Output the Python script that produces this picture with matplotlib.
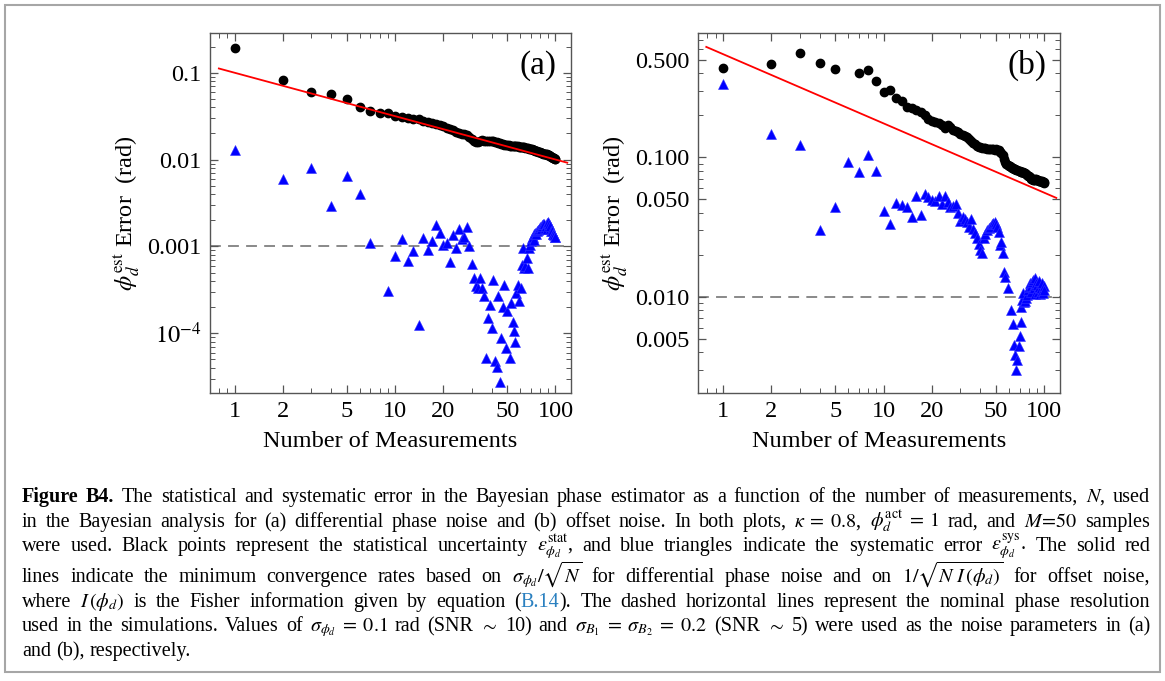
import numpy as np
import matplotlib
matplotlib.use('Agg')
import matplotlib.pyplot as plt
from matplotlib.ticker import FixedLocator, FixedFormatter, LogLocator, NullFormatter
from matplotlib.patches import Rectangle

plt.rcParams['font.family'] = ['Liberation Serif', 'DejaVu Serif']
plt.rcParams['mathtext.fontset'] = 'stix'

# ---- data ----
N_all = np.arange(1, 101)

# (a) differential phase noise
stat_a = [0.194, 0.082, 0.060, 0.057, 0.050, 0.040, 0.036, 0.034, 0.034, 0.032,
          0.031, 0.030, 0.0295, 0.029, 0.028, 0.0272, 0.0265, 0.026, 0.0252, 0.0242,
          0.0232, 0.0226, 0.0222, 0.021, 0.0202, 0.0198, 0.0195, 0.019, 0.0182, 0.0172,
          0.0165, 0.016, 0.0158, 0.0165, 0.0166, 0.0165, 0.0164, 0.0163, 0.0164, 0.0163,
          0.0162, 0.016, 0.0158, 0.0156, 0.0154, 0.0152, 0.015, 0.0148, 0.0147, 0.0146,
          0.0146, 0.0145, 0.0145, 0.0144, 0.0144, 0.0143, 0.0143, 0.0142, 0.0141, 0.014,
          0.014, 0.0139, 0.0139, 0.0138, 0.0137, 0.0136, 0.0135, 0.0134, 0.0133, 0.0132,
          0.0131, 0.013, 0.0129, 0.0128, 0.0127, 0.0125, 0.0124, 0.0123, 0.0122, 0.0121,
          0.012, 0.0119, 0.0118, 0.0117, 0.0116, 0.0116, 0.0115, 0.0115, 0.0114, 0.0113,
          0.0112, 0.0111, 0.011, 0.0108, 0.0106, 0.0105, 0.0104, 0.0103, 0.0102, 0.0101]

sys_a_N = [1, 2, 3, 4, 5, 6, 7, 9, 10, 11, 12, 13, 14, 15, 16, 17, 18, 19, 20,
           21, 22, 23, 24, 25, 26, 27, 28, 29, 30, 31, 32, 33, 34, 35, 36, 37, 38, 39, 40,
           41, 42, 43, 44, 45, 46, 47, 48, 49, 50, 52, 53, 54, 55, 56, 57, 58, 59, 61,
           62, 63, 64, 65, 66, 67, 68, 69, 70, 71, 72, 73, 74, 75, 76, 77, 78, 79, 80,
           81, 82, 83, 84, 85, 86, 87, 88, 89, 90, 91, 92, 93, 94, 95, 96, 97, 98, 99, 100]
sys_a = [0.013, 0.0060, 0.0080, 0.00294, 0.0064, 0.0040, 0.0011, 0.000303, 0.00078, 0.00123,
         0.000684, 0.000875, 0.000125, 0.00125, 0.000916, 0.00116, 0.00175, 0.00143, 0.00103,
         0.0011, 0.00067, 0.00136, 0.00096, 0.00158, 0.00122, 0.00128, 0.00168, 0.00102, 0.00063,
         0.00043, 0.00035, 0.00033, 0.00043, 0.00033, 0.000265, 5.2e-5, 0.000149, 0.000213, 0.000115,
         0.000413, 4.85e-5, 4.06e-5, 0.000272, 2.77e-5, 8.8e-5, 0.000203, 0.000361, 6.7e-5, 0.000178,
         5.2e-5, 0.000222, 0.000134, 0.000107, 8.0e-5, 0.00029, 0.000361, 0.000237, 0.000336,
         0.000615, 0.00096, 0.00056, 0.00059, 0.000735, 0.00056, 0.00096, 0.00105, 0.00114,
         0.00125, 0.0013, 0.0012, 0.0014, 0.00143, 0.0014, 0.0015, 0.00156, 0.0016, 0.00166,
         0.0016, 0.00175, 0.0017, 0.00181, 0.0018, 0.00165, 0.0017, 0.00186, 0.0016, 0.0019,
         0.0018, 0.0016, 0.0017, 0.0015, 0.00149, 0.0014, 0.0014, 0.00134, 0.0013, 0.0013]

line_a_N = [0.795, 118.5]
line_a = [0.112, 0.0092]
nominal_a = 0.001

# (b) offset noise
stat_b_N = [1, 2, 3, 4, 5, 7, 8, 9] + list(range(10, 101))
stat_b = [0.44, 0.468, 0.558, 0.473, 0.43, 0.401, 0.424, 0.353,
          0.296, 0.304, 0.265, 0.255, 0.23, 0.225, 0.219, 0.21, 0.2, 0.19,
          0.183, 0.178, 0.175, 0.17, 0.162, 0.17, 0.165, 0.158, 0.155, 0.151,
          0.148, 0.145, 0.142, 0.139, 0.136, 0.132, 0.127, 0.124, 0.121, 0.119,
          0.118, 0.117, 0.116, 0.116, 0.115, 0.115, 0.115, 0.114, 0.114, 0.113,
          0.114, 0.113, 0.112, 0.110, 0.108, 0.104, 0.097, 0.092, 0.089, 0.088,
          0.087, 0.086, 0.085, 0.084, 0.084, 0.083, 0.082, 0.081, 0.081, 0.080,
          0.080, 0.079, 0.079, 0.078, 0.078, 0.077, 0.077, 0.076, 0.075, 0.074,
          0.073, 0.072, 0.071, 0.070, 0.070, 0.069, 0.069, 0.069, 0.070, 0.070,
          0.069, 0.069, 0.068, 0.068, 0.068, 0.068, 0.068, 0.067, 0.067, 0.067,
          0.066]

sys_b_N = list(range(1, 58)) + [59, 62, 64, 65, 66, 67, 68, 69, 70, 71, 72, 73, 74, 75,
                                 76, 77, 78, 79, 80, 81, 82, 83, 84, 85, 86, 87, 88, 89,
                                 90, 91, 92, 93, 94, 95, 96, 97, 98, 99, 100]
sys_b = [0.336, 0.146, 0.123, 0.030, 0.0438, 0.093, 0.0788, 0.104, 0.080, 0.041,
         0.0335, 0.0468, 0.0455, 0.0438, 0.0375, 0.0527, 0.0386, 0.0545, 0.0516, 0.0494,
         0.0489, 0.0527, 0.0462, 0.0527, 0.048, 0.0438, 0.045, 0.0462, 0.040, 0.035,
         0.0375, 0.036, 0.0345, 0.0318, 0.0359, 0.0304, 0.0285, 0.0262, 0.024, 0.0218,
         0.0205, 0.0262, 0.028, 0.030, 0.031, 0.0318, 0.033, 0.0336, 0.0345, 0.0335,
         0.0318, 0.0292, 0.0234, 0.0248, 0.0207, 0.0151, 0.0138,
         0.0115, 0.0080, 0.0064, 0.0045, 0.0038, 0.0030, 0.0035, 0.0044, 0.0052, 0.0066,
         0.0085, 0.0095, 0.0106, 0.0092, 0.0094, 0.0098, 0.0103, 0.0111, 0.0118, 0.0125,
         0.012, 0.0108, 0.0128, 0.0131, 0.0115, 0.0105, 0.0136, 0.0125, 0.0122, 0.0108,
         0.0118, 0.013, 0.0105, 0.0115, 0.011, 0.0125, 0.0106, 0.012, 0.0112]

line_b_N = [0.788, 118.5]
line_b = [0.62, 0.0512]
nominal_b = 0.01

xticks = [1, 2, 5, 10, 20, 50, 100]
xlabels = ['1', '2', '5', '10', '20', '50', '100']
yticks_a = [1e-4, 1e-3, 1e-2, 1e-1]
ylabels_a = ['$10^{-4}$', '0.001', '0.01', '0.1']
yticks_b = [0.005, 0.01, 0.05, 0.1, 0.5]
ylabels_b = ['0.005', '0.010', '0.050', '0.100', '0.500']

W, H = 1165, 681
fig = plt.figure(figsize=(W / 100, H / 100), dpi=100)
fig.patches.append(Rectangle((5 / W, 1 - 672 / H), 1155 / W, 667 / H, transform=fig.transFigure,
                             fill=False, ec='#a6a6a6', lw=1.5))

ax_a = fig.add_axes([210 / W, 1 - 393 / H, 361 / W, 360 / H])
ax_b = fig.add_axes([698 / W, 1 - 393 / H, 362 / W, 360 / H])

panels = [
    (ax_a, N_all, stat_a, sys_a_N, sys_a, line_a_N, line_a, nominal_a,
     (2.05e-5, 0.287), yticks_a, ylabels_a, '(a)'),
    (ax_b, stat_b_N, stat_b, sys_b_N, sys_b, line_b_N, line_b, nominal_b,
     (0.00204, 0.78), yticks_b, ylabels_b, '(b)'),
]

for ax, n1, s1, n2, s2, ln, lv, nom, ylim, yt, yl, tag in panels:
    ax.set_xscale('log')
    ax.set_yscale('log')
    ax.axhline(nom, color='#808080', lw=1.3, ls=(0, (6, 4)), zorder=1)
    ax.plot(n2, s2, '^', color='#0000ff', ms=6.5, mec='#3333ff', mew=0.4, zorder=2)
    ax.plot(n1, s1, 'o', color='black', ms=6, zorder=3)
    ax.plot(ln, lv, '-', color='#ff0000', lw=1.3, zorder=4)
    ax.set_xlim(0.7, 125)
    ax.set_ylim(*ylim)
    ax.xaxis.set_major_locator(FixedLocator(xticks))
    ax.xaxis.set_major_formatter(FixedFormatter(xlabels))
    ax.xaxis.set_minor_locator(LogLocator(base=10, subs=np.arange(2, 10), numticks=20))
    ax.xaxis.set_minor_formatter(NullFormatter())
    ax.yaxis.set_major_locator(FixedLocator(yt))
    ax.yaxis.set_major_formatter(FixedFormatter(yl))
    ax.yaxis.set_minor_locator(LogLocator(base=10, subs=np.arange(2, 10), numticks=20))
    ax.yaxis.set_minor_formatter(NullFormatter())
    ax.tick_params(which='both', direction='in', top=True, right=True,
                   color='#555555', labelsize=17.5, pad=6)
    ax.tick_params(which='major', length=6, width=0.9)
    ax.tick_params(which='minor', length=3.5, width=0.7)
    for sp in ax.spines.values():
        sp.set_color('#555555')
        sp.set_linewidth(1.0)
    ax.set_xlabel('Number of Measurements', fontsize=17.5, labelpad=6)
    ax.set_ylabel(r'$\phi_d^{\rm est}$ Error  (rad)', fontsize=17.5, labelpad=4)
    ax.text(0.908, 0.91, tag, transform=ax.transAxes, fontsize=24, ha='center', va='center')

# ---- caption ----
cap_lines = [
    r"**Figure **B4. The statistical and systematic error in the Bayesian phase estimator as a function of the number of measurements, $N$, used",
    r"in the Bayesian analysis for (a) differential phase noise and (b) offset noise. In both plots, $\kappa\;=\;0.8$, $\phi_d^{\rm act}\;=\;1$ rad, and $M\!=\!50$ samples",
    r"were used. Black points represent the statistical uncertainty $\epsilon_{\phi_d}^{\rm stat}$, and blue triangles indicate the systematic error $\epsilon_{\phi_d}^{\rm sys}$. The solid red",
    r"lines indicate the minimum convergence rates based on $\sigma_{\phi_d}/\sqrt{N}$ for differential phase noise and on $1/\sqrt{N\;I\,(\phi_d)}$ for offset noise,",
    r"where $I\,(\phi_d)$ is the Fisher information given by equation (|##B.14|). The dashed horizontal lines represent the nominal phase resolution",
    r"used in the simulations. Values of $\sigma_{\phi_d}\;=\;0.1$ rad (SNR $\sim$ 10) and $\sigma_{B_1}\;=\;\sigma_{B_2}\;=\;0.2$ (SNR $\sim$ 5) were used as the noise parameters in (a)",
    r"and (b), respectively.",
]
cap_base = [502, 527, 551, 582, 607, 631, 656]
cap_fs = 14.5
x_left, x_right = 22, 1150

fig.canvas.draw()
rend = fig.canvas.get_renderer()


def tokens(line):
    out, buf = [], ''
    for w in line.split(' '):
        buf = w if buf == '' else buf + ' ' + w
        if buf.count('$') % 2 == 0:
            out.append(buf)
            buf = ''
    return out


for k, (line, yb) in enumerate(zip(cap_lines, cap_base)):
    words = tokens(line)
    placed, widths = [], []
    for w in words:
        parts, off = [], 0
        for p in w.split('|'):
            col, wt = 'black', 'normal'
            if p.startswith('**'):
                p, wt = p[2:], 'bold'
            if p.startswith('##'):
                p, col = p[2:], '#2a80c0'
            t = fig.text(0, 1 - yb / H, p, fontsize=cap_fs, color=col, fontweight=wt,
                         ha='left', va='baseline')
            parts.append((t, off))
            off += t.get_window_extent(renderer=rend).width
        placed.append(parts)
        widths.append(off)
    if k < len(cap_lines) - 1:
        gap = (x_right - x_left - sum(widths)) / (len(widths) - 1)
    else:
        gap = 0.25 * cap_fs * 100 / 72
    x = x_left
    for parts, wd in zip(placed, widths):
        for t, off in parts:
            t.set_x((x + off) / W)
        x += wd + gap

fig.savefig('out.png', dpi=100)
